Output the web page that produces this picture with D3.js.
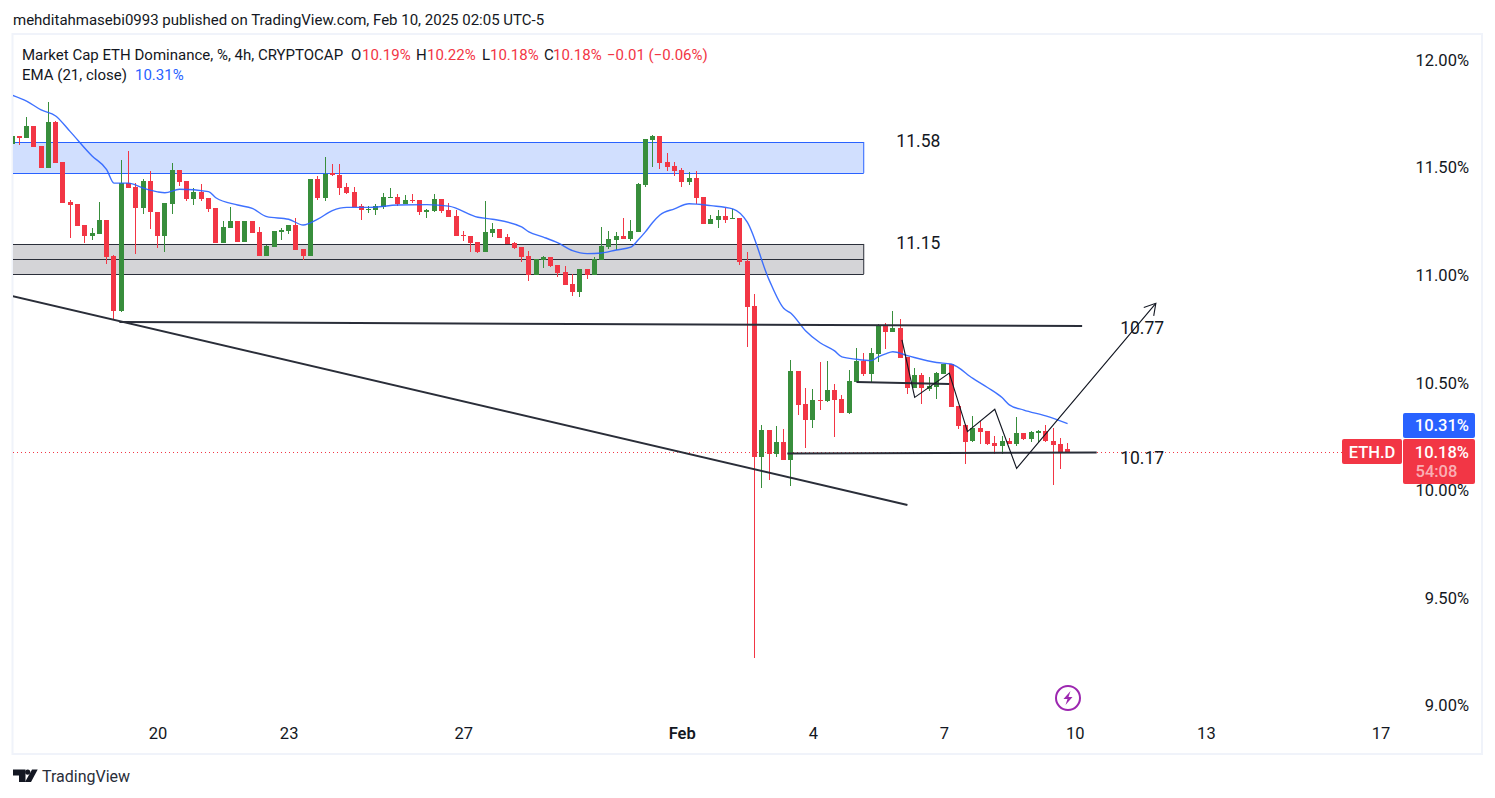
<!DOCTYPE html>
<html><head><meta charset="utf-8">
<script src="https://cdn.jsdelivr.net/npm/d3@7/dist/d3.min.js"></script>
<style>
html,body{margin:0;padding:0;background:#fff;overflow:hidden}
svg{display:block}
text{font-family:Roboto,sans-serif;fill:#131722}
.tick text{font-size:16.5px}
</style></head><body>
<svg id="c" width="1495" height="798"></svg>
<script>
const candleStart = "2025-01-16T16:00:00Z";
const opens = [
11.610,11.647,11.638,11.693,11.600,11.498,11.712,11.526,11.340,11.331,
11.233,11.182,11.191,11.256,11.089,10.834,11.428,11.410,11.312,11.438,
11.294,11.182,11.331,11.489,11.438,11.354,11.387,11.359,11.312,11.150,
11.219,11.252,11.154,11.252,11.201,11.089,11.131,11.201,11.205,11.233,
11.122,11.089,11.447,11.359,11.473,11.466,11.410,11.387,11.322,11.304,
11.303,11.317,11.359,11.363,11.331,11.349,11.349,11.294,11.298,11.354,
11.303,11.275,11.187,11.182,11.154,11.108,11.196,11.215,11.177,11.149,
11.131,11.089,11.001,11.071,11.084,11.047,11.015,10.959,10.922,11.029,
11.001,11.071,11.131,11.163,11.182,11.168,11.201,11.419,11.628,11.647,
11.526,11.507,11.489,11.433,11.452,11.363,11.238,11.256,11.275,11.261,
11.266,11.066,10.857,10.155,10.280,10.169,10.225,10.141,10.555,10.401,
10.327,10.420,10.415,10.466,10.425,10.360,10.504,10.601,10.541,10.634,
10.768,10.736,10.755,10.620,10.476,10.536,10.471,10.480,10.541,10.587,
10.392,10.304,10.229,10.290,10.276,10.220,10.206,10.229,10.215,10.267,
10.239,10.267,10.276,10.229,10.215,10.19];
const highs = [
11.647,11.647,11.735,11.693,11.600,11.805,11.717,11.526,11.349,11.331,
11.233,11.219,11.340,11.256,11.094,11.535,11.577,11.428,11.447,11.484,
11.294,11.335,11.521,11.489,11.438,11.405,11.424,11.359,11.312,11.252,
11.317,11.252,11.252,11.252,11.224,11.140,11.205,11.219,11.233,11.266,
11.122,11.447,11.461,11.549,11.517,11.517,11.428,11.410,11.331,11.322,
11.331,11.382,11.405,11.377,11.373,11.377,11.349,11.308,11.377,11.354,
11.335,11.303,11.205,11.182,11.154,11.345,11.242,11.215,11.191,11.154,
11.131,11.112,11.075,11.089,11.084,11.047,11.043,11.005,11.029,11.029,
11.084,11.224,11.205,11.201,11.266,11.256,11.428,11.633,11.651,11.647,
11.568,11.526,11.498,11.479,11.484,11.363,11.280,11.303,11.312,11.307,
11.266,11.108,10.913,10.304,10.280,10.299,10.285,10.606,10.555,10.476,
10.471,10.597,10.601,10.494,10.443,10.559,10.662,10.638,10.662,10.773,
10.778,10.834,10.796,10.620,10.569,10.545,10.527,10.550,10.587,10.587,
10.392,10.308,10.346,10.322,10.276,10.253,10.253,10.243,10.341,10.267,
10.276,10.280,10.304,10.290,10.243,10.22];
const lows = [
11.610,11.605,11.638,11.596,11.498,11.498,11.521,11.335,11.173,11.229,
11.150,11.164,11.191,11.052,10.792,10.829,11.405,11.098,11.284,11.215,
11.126,11.108,11.284,11.414,11.345,11.326,11.345,11.294,11.150,11.150,
11.219,11.154,11.154,11.196,11.089,11.089,11.131,11.164,11.191,11.117,
11.071,11.089,11.349,11.345,11.461,11.373,11.377,11.317,11.256,11.289,
11.280,11.308,11.359,11.322,11.331,11.335,11.280,11.266,11.294,11.289,
11.270,11.182,11.159,11.108,11.103,11.108,11.177,11.173,11.145,11.122,
11.061,10.973,11.001,11.033,11.038,10.992,10.954,10.903,10.899,10.982,
11.001,11.071,11.122,11.117,11.168,11.159,11.201,11.410,11.503,11.493,
11.484,11.461,11.410,11.419,11.331,11.238,11.238,11.219,11.242,11.261,
11.047,10.666,9.221,10.011,10.048,10.155,10.141,10.020,10.350,10.197,
10.290,10.373,10.411,10.248,10.360,10.355,10.504,10.531,10.504,10.597,
10.657,10.736,10.615,10.448,10.476,10.401,10.462,10.425,10.541,10.387,
10.285,10.122,10.225,10.215,10.211,10.169,10.169,10.215,10.206,10.234,
10.225,10.220,10.225,10.025,10.099,10.18];
const closes = [
11.647,11.638,11.693,11.596,11.498,11.712,11.521,11.335,11.326,11.229,
11.182,11.196,11.256,11.085,10.834,11.428,11.405,11.312,11.438,11.294,
11.182,11.335,11.489,11.433,11.354,11.387,11.354,11.308,11.150,11.224,
11.252,11.154,11.252,11.196,11.089,11.136,11.205,11.210,11.233,11.117,
11.089,11.447,11.359,11.470,11.466,11.405,11.382,11.317,11.303,11.309,
11.322,11.363,11.363,11.331,11.349,11.345,11.294,11.303,11.354,11.298,
11.270,11.182,11.182,11.150,11.108,11.201,11.215,11.173,11.145,11.126,
11.084,11.001,11.075,11.084,11.043,11.010,10.954,10.922,11.029,11.001,
11.075,11.136,11.168,11.182,11.168,11.205,11.424,11.633,11.647,11.521,
11.503,11.484,11.433,11.452,11.359,11.238,11.261,11.275,11.256,11.266,
11.061,10.852,10.155,10.280,10.169,10.225,10.141,10.555,10.397,10.327,
10.420,10.415,10.466,10.420,10.360,10.508,10.601,10.541,10.638,10.768,
10.736,10.755,10.615,10.476,10.536,10.476,10.485,10.545,10.587,10.387,
10.299,10.225,10.290,10.271,10.215,10.206,10.229,10.215,10.267,10.239,
10.271,10.276,10.229,10.211,10.178,10.18];
const emaIndex = [0,2,4,6,8,11,13,14,16,18,20,21,23,27,28,31,33,35,38,40,42,44,46,49,53,57,60,64,66,70,71,73,75,77,79,81,83,85,86,87,88,89,91,93,96,99,101,104,106,107,109,111,113,114,116,118,119,120,121,123,127,129,132,134,136,137,139,142,145];
const emaValues = [11.837,11.809,11.768,11.740,11.667,11.554,11.491,11.428,11.428,11.405,11.387,11.383,11.399,11.388,11.360,11.326,11.310,11.272,11.260,11.233,11.260,11.300,11.315,11.315,11.326,11.328,11.321,11.269,11.260,11.224,11.201,11.177,11.150,11.114,11.100,11.103,11.117,11.130,11.163,11.201,11.245,11.280,11.308,11.332,11.323,11.308,11.246,10.978,10.846,10.823,10.742,10.686,10.648,10.620,10.609,10.603,10.620,10.634,10.644,10.626,10.594,10.587,10.520,10.478,10.431,10.397,10.373,10.346,10.31];

const priceTicks = [9,9.5,10,10.5,11,11.5,12];
const dateTicks = ["2025-01-20","2025-01-23","2025-01-27","2025-02-01","2025-02-04","2025-02-07","2025-02-10","2025-02-13","2025-02-17"];
const dateLabels = ["20","23","27","Feb","4","7","10","13","17"];

const blueZoneTimes = ["2025-01-14T00:00Z","2025-02-05T04:00Z"];
const blueZoneValues = [11.619,11.475];
const greyZoneTimes = ["2025-01-14T00:00Z","2025-02-05T04:00Z"];
const greyZoneValues = [11.145,11.075,11.005];
const trendTimes = ["2025-01-16T16:00Z","2025-02-06T04:00Z"];
const trendValues = [10.903,9.932];
const resistanceTimes = ["2025-01-19T03:00Z","2025-02-10T04:00Z"];
const resistanceValues = [10.782,10.764];
const supportTimes = ["2025-02-03T10:00Z","2025-02-10T12:00Z"];
const supportValues = [10.171,10.176];
const midTimes = ["2025-02-05T00:00Z","2025-02-07T03:00Z"];
const midValues = [10.504,10.494];
const zigTimes = ["2025-02-06T01:00Z","2025-02-06T08:00Z","2025-02-07T03:00Z","2025-02-07T13:00Z","2025-02-08T04:00Z","2025-02-08T16:00Z","2025-02-11T20:30Z"];
const zigValues = [10.699,10.432,10.545,10.273,10.377,10.102,10.869];

const noteLabels = ["11.58","11.15","10.77","10.17"];
const noteTimes = ["2025-02-06T10:00Z","2025-02-06T10:00Z","2025-02-11T13:00Z","2025-02-11T13:00Z"];
const noteValues = [11.624,11.150,10.755,10.15];

const RED="#f23645", GREEN="#388e3c", BLUE="#2962ff", DARK="#2a2e39";
const svg = d3.select("#c");
const x = d3.scaleUtc().domain([new Date("2025-01-20T00:00:00Z"),new Date("2025-02-17T00:00:00Z")]).range([157.6,1380.6]);
const y = d3.scaleLinear().domain([9,12]).range([705.5,60]);
const H4 = 4*3600*1000, t0 = +new Date(candleStart);
const timeOf = i => new Date(t0+i*H4);

svg.append("defs").append("clipPath").attr("id","pane").append("rect").attr("x",13).attr("y",35).attr("width",1387).attr("height",718);
const marker = svg.select("defs").append("marker").attr("id","arrow").attr("markerUnits","userSpaceOnUse")
  .attr("markerWidth",20).attr("markerHeight",20).attr("refX",14).attr("refY",10).attr("orient","auto");
marker.append("path").attr("d",d3.line()([[3,3.5],[14,10],[3,16.5]])).attr("fill","none").attr("stroke","#131722").attr("stroke-width",1.1);

// frame
svg.append("rect").attr("x",12.5).attr("y",34).attr("width",1469.5).attr("height",720).attr("fill","none").attr("stroke","#f0f3fa").attr("stroke-width",2);

const pane = svg.append("g").attr("clip-path","url(#pane)");

// zones
const zone = (times,vals,fill,stroke)=>{
  const x0=x(new Date(times[0])),x1=x(new Date(times[1]));
  pane.append("rect").attr("x",x0).attr("width",x1-x0).attr("y",y(vals[0])).attr("height",y(vals[vals.length-1])-y(vals[0])).attr("fill",fill);
  vals.forEach(v=>pane.append("line").attr("x1",x0).attr("x2",x1).attr("y1",Math.round(y(v))+.5).attr("y2",Math.round(y(v))+.5).attr("stroke",stroke).attr("stroke-width",1));
  pane.append("line").attr("x1",x1).attr("x2",x1).attr("y1",y(vals[0])).attr("y2",y(vals[vals.length-1])).attr("stroke",stroke).attr("stroke-width",1);
};
zone(blueZoneTimes,blueZoneValues,"#d1dffe",BLUE);
zone(greyZoneTimes,greyZoneValues,"#d4d4d7",DARK);

// last price dotted
pane.append("line").attr("x1",13).attr("x2",1400).attr("y1",Math.round(y(10.18))+.5).attr("y2",Math.round(y(10.18))+.5)
  .attr("stroke",RED).attr("stroke-width",1).attr("stroke-dasharray","1 3");

const linePts = (ts,vs)=>ts.map((t,i)=>[x(new Date(t)),y(vs[i])]);
const lineGen = d3.line();

// candles
const cg = pane.append("g");
const idx = d3.range(opens.length);
const col = i => closes[i]>=opens[i]?GREEN:RED;
cg.selectAll("rect.w").data(idx).join("rect").attr("class","w")
  .attr("x",i=>Math.floor(x(timeOf(i)))).attr("width",1)
  .attr("y",i=>Math.round(y(highs[i]))).attr("height",i=>Math.max(1,Math.round(y(lows[i]))-Math.round(y(highs[i]))))
  .attr("fill",col);
cg.selectAll("rect.b").data(idx).join("rect").attr("class","b")
  .attr("x",i=>Math.floor(x(timeOf(i)))-2).attr("width",5)
  .attr("y",i=>Math.round(y(Math.max(opens[i],closes[i]))))
  .attr("height",i=>Math.max(1,Math.round(y(Math.min(opens[i],closes[i])))-Math.round(y(Math.max(opens[i],closes[i])))))
  .attr("fill",col);

// EMA
pane.append("path").attr("d",d3.line().x((d,i)=>x(timeOf(emaIndex[i]))).y(d=>y(d)).curve(d3.curveMonotoneX)(emaValues))
  .attr("fill","none").attr("stroke",BLUE).attr("stroke-width",1.4).attr("opacity",.9);

// drawings
const drawn = (ts,vs,w,c)=>pane.append("path").attr("d",lineGen(linePts(ts,vs))).attr("fill","none").attr("stroke",c).attr("stroke-width",w);
drawn(trendTimes,trendValues,2,DARK);
drawn(resistanceTimes,resistanceValues,2,DARK);
drawn(supportTimes,supportValues,2,DARK);
drawn(midTimes,midValues,2,DARK);
drawn(zigTimes,zigValues,1.15,"#131722").attr("marker-end","url(#arrow)");

noteLabels.forEach((t,i)=>pane.append("text").attr("x",x(new Date(noteTimes[i]))).attr("y",y(noteValues[i]))
  .attr("text-anchor","middle").attr("dy","0.35em").attr("font-size",17.5).text(t));

// axes
const ay = d3.axisRight(y).tickValues(priceTicks).tickSize(0).tickPadding(0).tickFormat(d=>d.toFixed(2)+"%");
const gy = svg.append("g").attr("transform","translate(1469,0)").call(ay);
gy.select(".domain").remove();
gy.selectAll("text").attr("text-anchor","end").attr("font-family",null);
const ax = d3.axisBottom(x).tickValues(dateTicks.map(d=>new Date(d+"T00:00:00Z"))).tickSize(0).tickPadding(0).tickFormat((d,i)=>dateLabels[i]);
const gx = svg.append("g").attr("transform","translate(0,727.5)").call(ax);
gx.select(".domain").remove();
gx.selectAll("text").attr("font-family",null).attr("font-weight",(d,i)=>dateLabels[i]==="Feb"?600:400);

// price tags
const tag = (xx,yy,w,h,c)=>svg.append("rect").attr("x",xx).attr("y",yy).attr("width",w).attr("height",h).attr("rx",2).attr("fill",c);
const wtxt=(xx,yy,t,anch,op,fw)=>svg.append("text").attr("x",xx).attr("y",yy).attr("text-anchor",anch).attr("font-size",16.5).attr("font-weight",fw||500).style("fill","#fff").style("fill-opacity",op||1).text(t);
tag(1403,413,72,25,BLUE);
wtxt(1469,431,"10.31%","end");
tag(1342,439,60,25,RED);
wtxt(1372,457.5,"ETH.D","middle");
tag(1403,439,72,45,RED);
wtxt(1469,457.5,"10.18%","end");
wtxt(1415.5,477,"54:08","start",.62);

// headers
const txt=(xx,yy,t,c,fs)=>svg.append("text").attr("x",xx).attr("y",yy).attr("font-size",fs||15).style("fill",c||"#131722").text(t);
txt(13,25,"mehditahmasebi0993 published on TradingView.com, Feb 10, 2025 02:05 UTC-5","#131722",15);
txt(22,59.5,"Market Cap ETH Dominance, %, 4h, CRYPTOCAP");
txt(351,59.5,"O"); txt(362,59.5,"10.19%",RED);
txt(416,59.5,"H"); txt(427,59.5,"10.22%",RED);
txt(482,59.5,"L"); txt(490,59.5,"10.18%",RED);
txt(544,59.5,"C"); txt(553,59.5,"10.18%",RED);
txt(607,59.5,"\u22120.01 (\u22120.06%)",RED);
txt(22,79.5,"EMA (21, close)"); txt(135,79.5,"10.31%",BLUE);

// lightning icon
const ic=svg.append("g").attr("transform","translate(1068,698)");
ic.append("circle").attr("r",12).attr("fill","#fff").attr("stroke","#9c27b0").attr("stroke-width",2);
ic.append("path").attr("d","M2.5,-7 L-4.5,1 L-0.5,1 L-2.5,7 L4.5,-1 L0.5,-1 Z").attr("fill","#9c27b0");

// footer logo
const lg=svg.append("g").attr("transform","translate(13,769.5)").attr("fill","#131722");
lg.append("path").attr("d","M0,0 H12.5 V12.5 H6 V6 H0 Z");
lg.append("circle").attr("cx",14.7).attr("cy",2.6).attr("r",2.6);
lg.append("path").attr("d","M19,0 H24.7 L18,12.5 H12 Z");
txt(42,782,"TradingView","#2a2e39",16);
</script>
</body></html>
